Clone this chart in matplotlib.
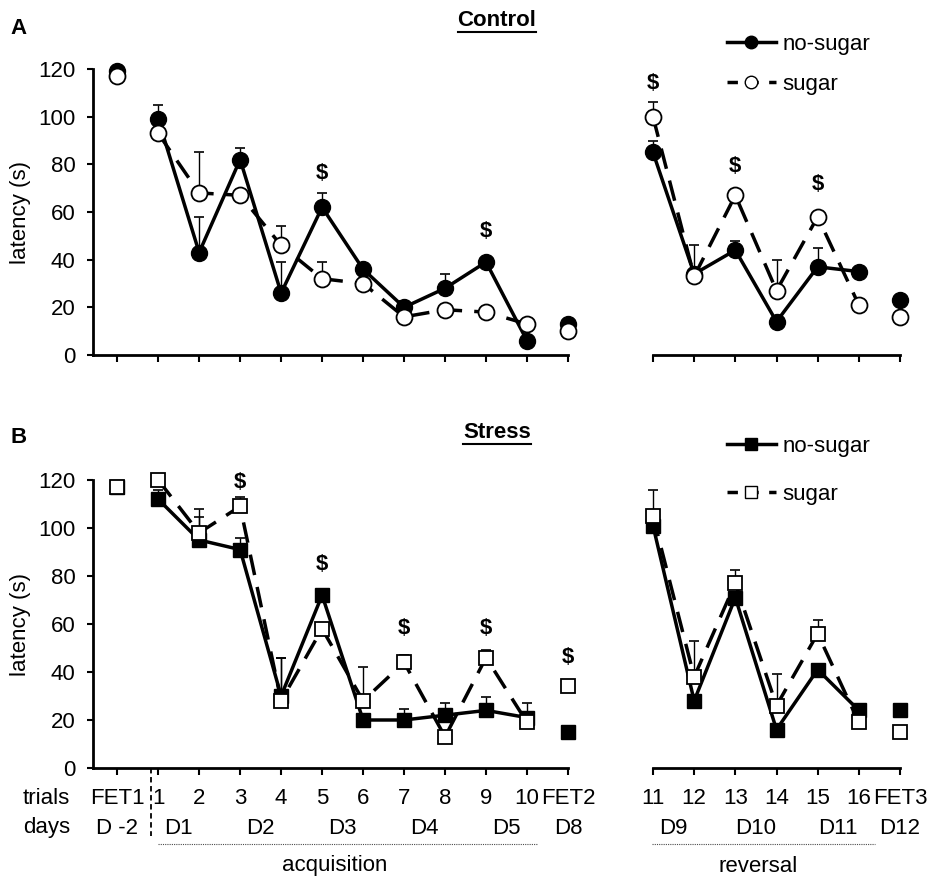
import numpy as np
import matplotlib
matplotlib.use("Agg")
import matplotlib.pyplot as plt
from matplotlib.lines import Line2D
from matplotlib.transforms import blended_transform_factory

plt.rcParams['font.family'] = ['Liberation Sans', 'DejaVu Sans']

# x categories: left block (FET1, trials 1-10, FET2), right block (trials 11-16, FET3)
trials_left = ['FET1', '1', '2', '3', '4', '5', '6', '7', '8', '9', '10', 'FET2']
trials_right = ['11', '12', '13', '14', '15', '16', 'FET3']
days_left = ['D -2', 'D1', 'D2', 'D3', 'D4', 'D5', 'D8']
days_left_pos = [0, 1.5, 3.5, 5.5, 7.5, 9.5, 11]
days_right = ['D9', 'D10', 'D11', 'D12']
days_right_pos = [0.5, 2.5, 4.5, 6]

# A: control
ctrl_ns_left = [119, 99, 43, 82, 26, 62, 36, 20, 28, 39, 6, 13]
ctrl_ns_left_sem = [0, 6, 15, 5, 13, 6, 2, 2.5, 6, 0, 0, 0]
ctrl_s_left = [117, 93, 68, 67, 46, 32, 30, 16, 19, 18, 13, 10]
ctrl_s_left_sem = [0, 0, 17, 0, 8, 7, 0, 0, 0, 0, 0, 0]
ctrl_ns_right = [85, 34, 44, 14, 37, 35, 23]
ctrl_ns_right_sem = [5, 0, 4, 0, 8, 0, 0]
ctrl_s_right = [100, 33, 67, 27, 58, 21, 16]
ctrl_s_right_sem = [6, 13, 0, 13, 0, 0, 0]
ctrl_sig_left = [(5, 76), (9, 52)]
ctrl_sig_right = [(0, 114), (2, 79), (4, 71.5)]

# B: stress
str_ns_left = [117, 112, 95, 91, 30, 72, 20, 20, 22, 24, 21, 15]
str_ns_left_sem = [0, 4, 9.5, 5, 16, 0, 0, 4.5, 5, 5.5, 6, 0]
str_s_left = [117, 120, 98, 109, 28, 58, 28, 44, 13, 46, 19, 34]
str_s_left_sem = [0, 0, 10, 4, 18, 0, 14, 3, 0, 3, 0, 0]
str_ns_right = [101, 28, 71, 16, 41, 24, 24]
str_ns_right_sem = [0, 0, 0, 0, 0, 0, 0]
str_s_right = [105, 38, 77, 26, 56, 19, 15]
str_s_right_sem = [11, 15, 5.5, 13, 5.5, 0, 0]
str_sig_left = [(3, 119), (5, 85), (7, 58), (9, 58), (11, 46)]
str_sig_right = []

W, H = 943, 877
fig = plt.figure(figsize=(W / 100, H / 100), dpi=100)
FS = 16


def px(x0, y0, x1, y1):
    return [x0 / W, 1 - y1 / H, (x1 - x0) / W, (y1 - y0) / H]


def err(ax, x, y, sem):
    x = np.asarray(x, float)
    y = np.asarray(y, float)
    sem = np.asarray(sem, float)
    m = sem > 0
    if m.any():
        ax.errorbar(x[m], y[m], yerr=[np.zeros(m.sum()), sem[m]], fmt='none',
                    ecolor='k', elinewidth=1, capsize=3.5, capthick=1.2,
                    zorder=1, clip_on=False)


def series(ax, segs, y, marker, filled):
    # segs: list of index ranges that are joined by a line
    y = np.asarray(y, float)
    ms = 11.5 if marker == 'o' else 10.5
    for s in segs:
        idx = np.arange(s[0], s[1])
        if filled:
            ax.plot(idx, y[idx], '-', color='k', lw=2.5, marker=marker, ms=ms,
                    mfc='k', mec='k', zorder=2, clip_on=False)
        else:
            ax.plot(idx, y[idx], color='k', lw=2.5, dashes=(6, 3.5), marker=marker,
                    ms=ms, mfc='white', mec='k', mew=1.3, zorder=3, clip_on=False)


def style(ax, left):
    ax.set_ylim(0, 120)
    for sp in ['top', 'right']:
        ax.spines[sp].set_visible(False)
    ax.spines['bottom'].set_linewidth(2)
    ax.tick_params(axis='x', direction='out', length=5, width=1.5, labelbottom=False)
    if left:
        ax.set_xlim(-0.59, 11)
        ax.set_xticks(range(12))
        ax.spines['left'].set_linewidth(2)
        ax.set_yticks(range(0, 121, 20))
        ax.tick_params(axis='y', direction='out', length=4.5, width=1.5, labelsize=FS, pad=8)
        ax.set_ylabel('latency (s)', fontsize=FS)
        ax.yaxis.set_label_coords(-0.13, 0.5)
    else:
        ax.set_xlim(0, 6)
        ax.set_xticks(range(7))
        ax.spines['left'].set_visible(False)
        ax.set_yticks([])
    ax.patch.set_alpha(0)


def panel(y0, y1, ns_l, ns_l_e, s_l, s_l_e, ns_r, ns_r_e, s_r, s_r_e, sig_l, sig_r, marker):
    axl = fig.add_axes(px(93, y0, 568, y1))
    axr = fig.add_axes(px(653, y0, 900, y1))
    style(axl, True)
    style(axr, False)
    err(axl, range(12), ns_l, ns_l_e)
    err(axl, range(12), s_l, s_l_e)
    err(axr, range(7), ns_r, ns_r_e)
    err(axr, range(7), s_r, s_r_e)
    series(axl, [(0, 1), (1, 11), (11, 12)], ns_l, marker, True)
    series(axl, [(0, 1), (1, 11), (11, 12)], s_l, marker, False)
    series(axr, [(0, 6), (6, 7)], ns_r, marker, True)
    series(axr, [(0, 6), (6, 7)], s_r, marker, False)
    for x, y in sig_l:
        axl.text(x, y, '$', ha='center', va='center', fontsize=FS, fontweight='bold')
    for x, y in sig_r:
        axr.text(x, y, '$', ha='center', va='center', fontsize=FS, fontweight='bold')
    return axl, axr


axA, axA2 = panel(69, 355, ctrl_ns_left, ctrl_ns_left_sem, ctrl_s_left, ctrl_s_left_sem,
                  ctrl_ns_right, ctrl_ns_right_sem, ctrl_s_right, ctrl_s_right_sem,
                  ctrl_sig_left, ctrl_sig_right, 'o')
axB, axB2 = panel(480, 768, str_ns_left, str_ns_left_sem, str_s_left, str_s_left_sem,
                  str_ns_right, str_ns_right_sem, str_s_right, str_s_right_sem,
                  str_sig_left, str_sig_right, 's')

# legends
for mk, ytop, spacing in [('o', 34, 0.85), ('s', 436, 1.2)]:
    h1 = Line2D([], [], color='k', lw=2.5, marker=mk, ms=9, mfc='k', mec='k')
    h2 = Line2D([], [], color='k', lw=2.5, dashes=(3, 3), marker=mk, ms=9, mfc='white', mec='k')
    fig.legend([h1, h2], ['no-sugar', 'sugar'], loc='upper left',
               bbox_to_anchor=(727 / W, 1 - ytop / H), frameon=False, fontsize=FS,
               handlelength=2.2, handletextpad=0.3, labelspacing=spacing, borderpad=0,
               borderaxespad=0)

# panel letters and titles
fig.text(10 / W, 1 - 28 / H, 'A', fontsize=FS, fontweight='bold', va='center')
fig.text(10 / W, 1 - 437 / H, 'B', fontsize=FS, fontweight='bold', va='center')
titles = [fig.text(497 / W, 1 - 20 / H, 'Control', fontsize=FS, fontweight='bold',
                   ha='center', va='center'),
          fig.text(497 / W, 1 - 432 / H, 'Stress', fontsize=FS, fontweight='bold',
                   ha='center', va='center')]
fig.canvas.draw()
for t in titles:
    bb = t.get_window_extent()
    yline = bb.y0 - 1
    fig.add_artist(Line2D([bb.x0 / W, bb.x1 / W], [yline / H, yline / H], color='k', lw=1.5))

# bottom labels
tl = blended_transform_factory(axB.transData, fig.transFigure)
tr = blended_transform_factory(axB2.transData, fig.transFigure)
y_trials, y_days, y_line, y_phase = 1 - 798 / H, 1 - 828 / H, 1 - 844 / H, 1 - 866 / H
fig.text(70 / W, y_trials, 'trials', fontsize=FS, ha='right', va='center')
fig.text(70 / W, y_days, 'days', fontsize=FS, ha='right', va='center')
for i, lab in enumerate(trials_left):
    fig.text(i, y_trials, lab, transform=tl, fontsize=FS, ha='center', va='center')
for i, lab in enumerate(trials_right):
    fig.text(i, y_trials, lab, transform=tr, fontsize=FS, ha='center', va='center')
for p, lab in zip(days_left_pos, days_left):
    fig.text(p, y_days, lab, transform=tl, fontsize=FS, ha='center', va='center')
for p, lab in zip(days_right_pos, days_right):
    fig.text(p, y_days, lab, transform=tr, fontsize=FS, ha='center', va='center')

fig.add_artist(Line2D([1, 10.25], [y_line, y_line], transform=tl, color='0.3', lw=0.8,
                      ls=(0, (1, 1))))
fig.add_artist(Line2D([-0.02, 5.4], [y_line, y_line], transform=tr, color='0.3', lw=0.8,
                      ls=(0, (1, 1))))
fig.text(5.3, y_phase, 'acquisition', transform=tl, fontsize=FS, ha='center', va='center')
fig.text(2.55, y_phase, 'reversal', transform=tr, fontsize=FS, ha='center', va='center')
fig.add_artist(Line2D([0.83, 0.83], [1 - 768 / H, 1 - 836 / H], transform=tl, color='k',
                      lw=1.3, ls=(0, (3, 2))))

fig.savefig('out.png', dpi=100)
